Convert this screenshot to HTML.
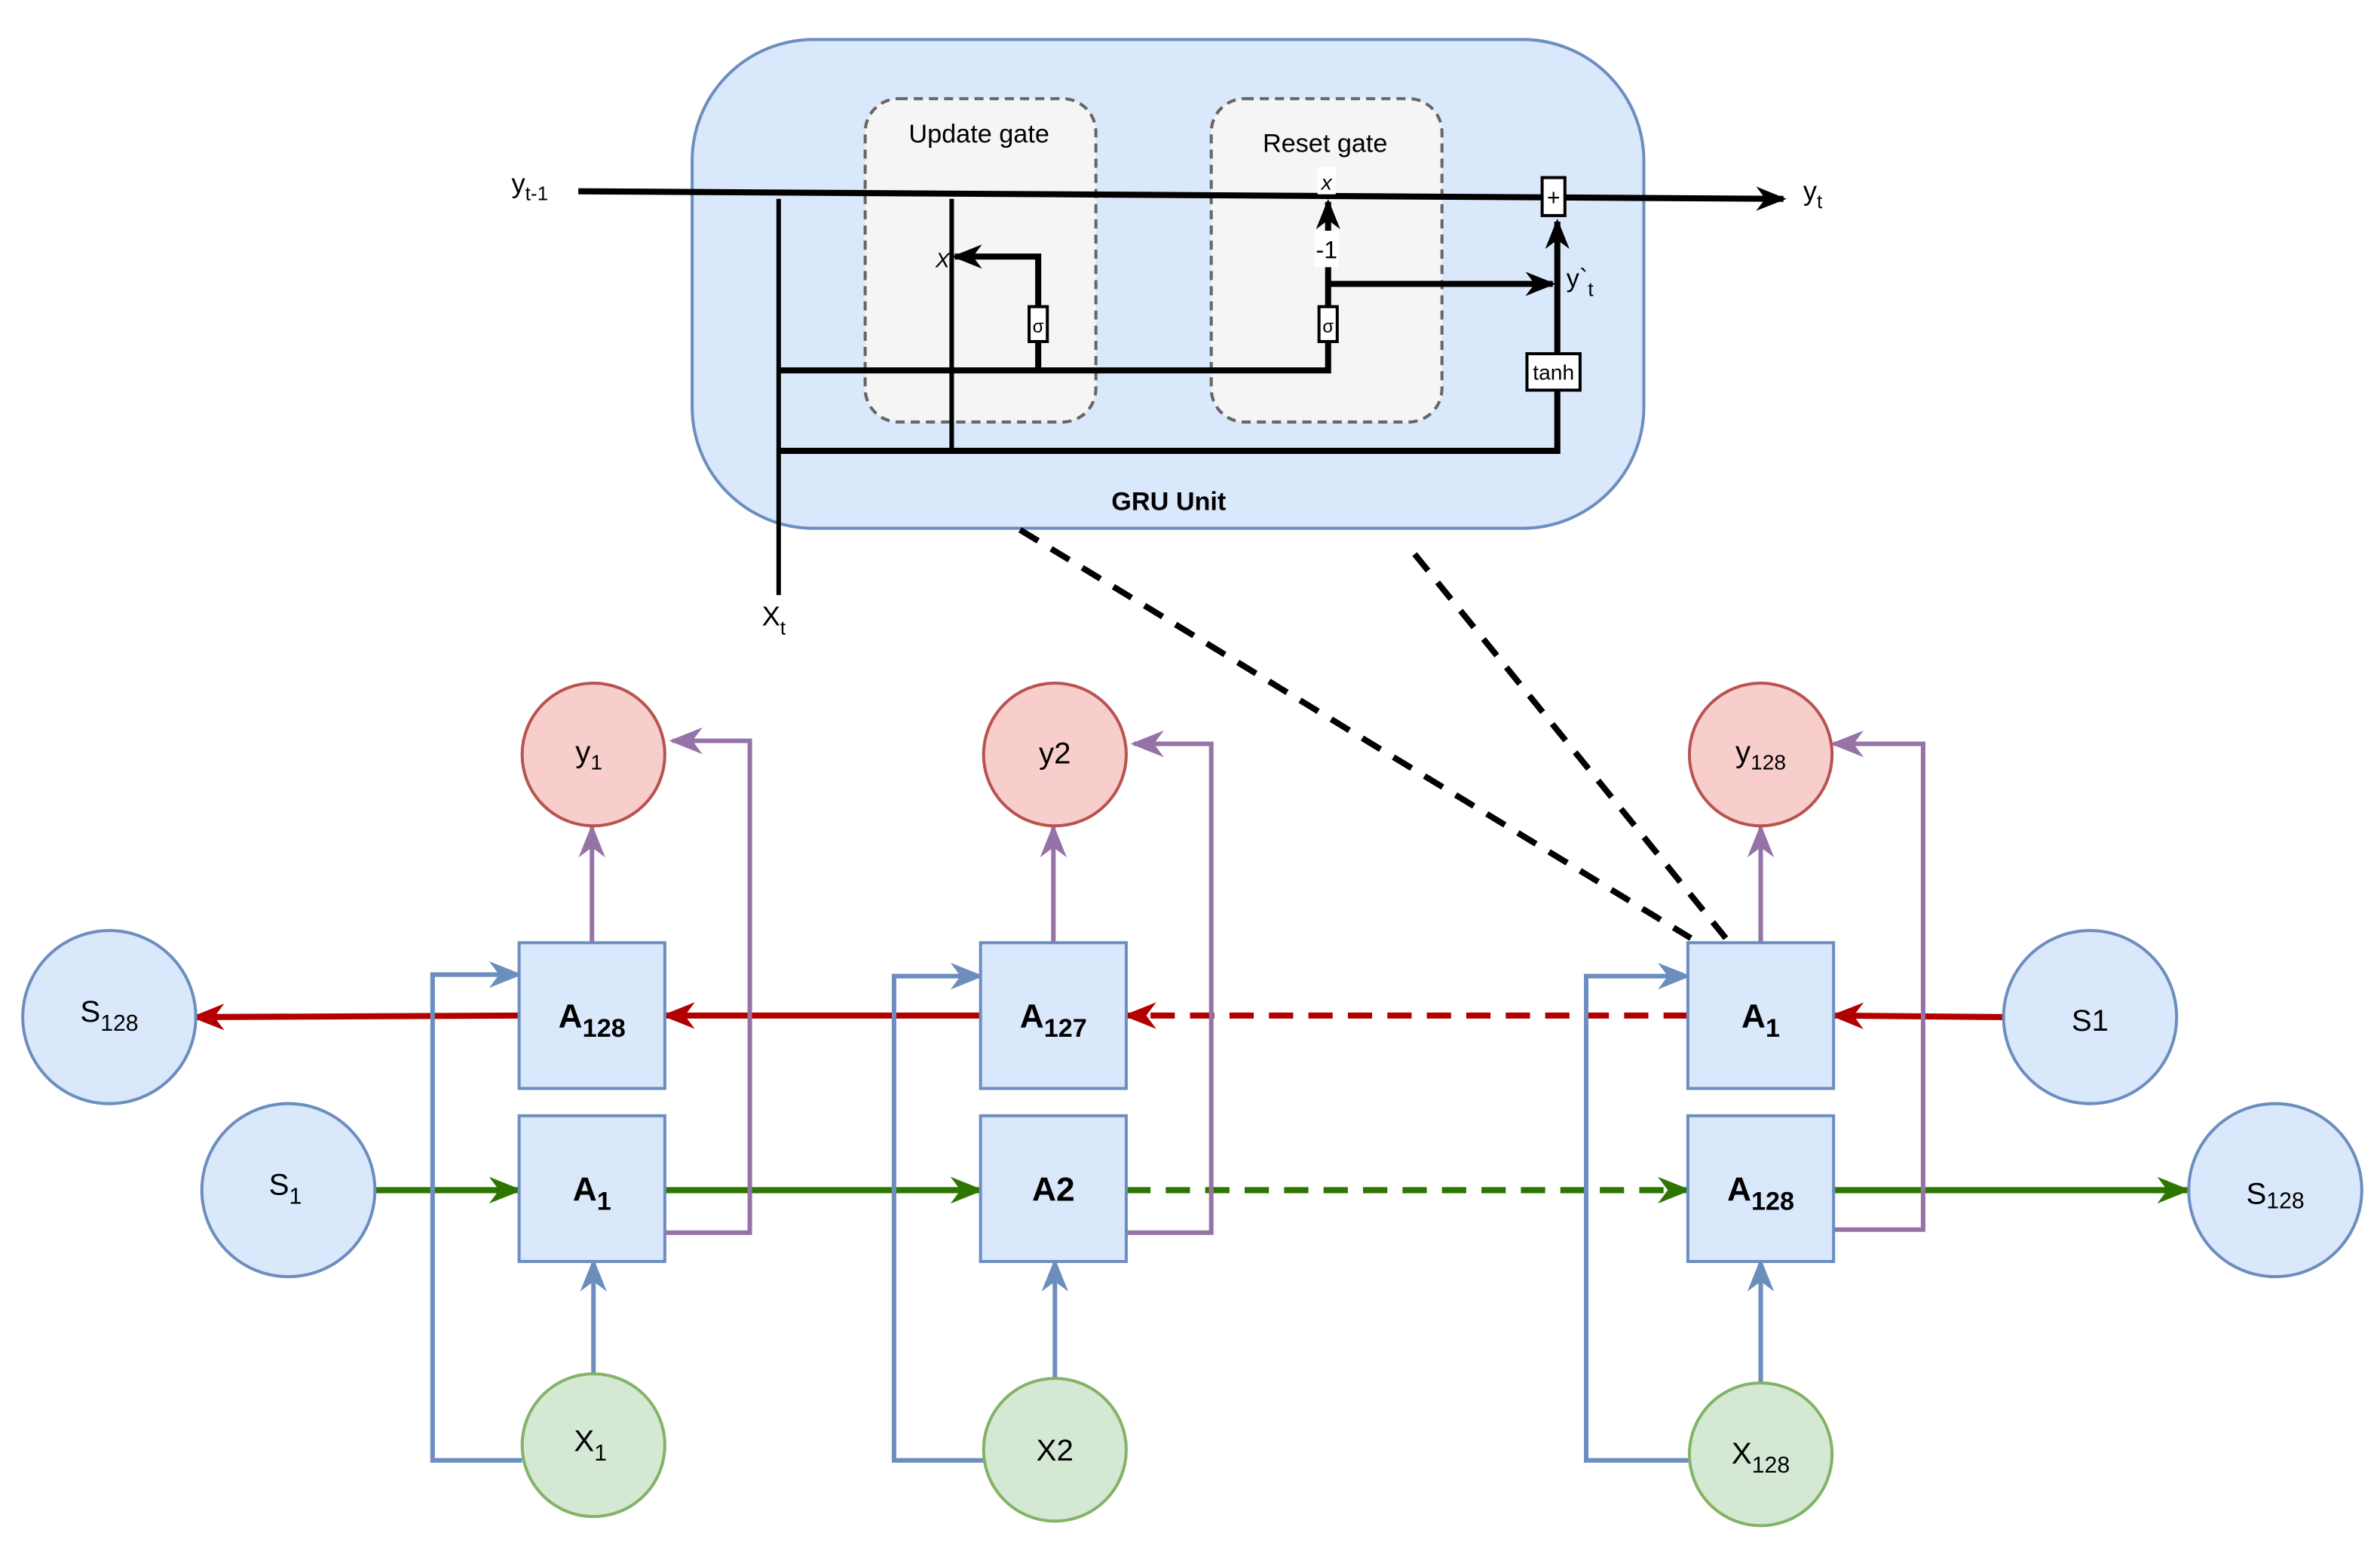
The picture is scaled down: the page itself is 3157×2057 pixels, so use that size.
<!DOCTYPE html>
<html><head><meta charset="utf-8">
<style>
html,body{margin:0;padding:0;background:#fff;}
svg{display:block;}
text{font-family:"Liberation Sans",sans-serif;}
</style></head>
<body>
<svg width="3157" height="2057" viewBox="0 0 1568 1021.7" preserveAspectRatio="none" xmlns="http://www.w3.org/2000/svg">
<defs>
<marker id="ak" viewBox="0 0 10 10" refX="9" refY="5" markerWidth="5" markerHeight="5" orient="auto" markerUnits="userSpaceOnUse" style="overflow:visible"><path d="M0,0 L10,5 L0,10 L3,5 z" fill="#000" transform="scale(1.8) translate(-4,-2.2)"/></marker>
<marker id="ar" viewBox="0 0 20 20" refX="18" refY="10" markerWidth="22" markerHeight="22" orient="auto" markerUnits="userSpaceOnUse"><path d="M0,2 L20,10 L0,18 L6,10 z" fill="#b20000"/></marker>
<marker id="ag" viewBox="0 0 20 20" refX="18" refY="10" markerWidth="22" markerHeight="22" orient="auto" markerUnits="userSpaceOnUse"><path d="M0,2 L20,10 L0,18 L6,10 z" fill="#2d7600"/></marker>
<marker id="ap" viewBox="0 0 20 20" refX="18" refY="10" markerWidth="22" markerHeight="22" orient="auto" markerUnits="userSpaceOnUse"><path d="M0,2 L20,10 L0,18 L6,10 z" fill="#9673a6"/></marker>
<marker id="ab" viewBox="0 0 20 20" refX="18" refY="10" markerWidth="22" markerHeight="22" orient="auto" markerUnits="userSpaceOnUse"><path d="M0,2 L20,10 L0,18 L6,10 z" fill="#6c8ebf"/></marker>
<marker id="abk" viewBox="0 0 20 20" refX="18" refY="10" markerWidth="20" markerHeight="20" orient="auto" markerUnits="userSpaceOnUse"><path d="M0,2 L20,10 L0,18 L6,10 z" fill="#000"/></marker>
</defs>

<!-- GRU unit -->
<rect x="456" y="26" width="627" height="322" rx="80" fill="#dae8fc" stroke="#6c8ebf" stroke-width="2"/>
<rect x="570" y="65" width="152" height="213" rx="22" fill="#f5f5f5" stroke="#666" stroke-width="2" stroke-dasharray="6,4"/>
<rect x="798" y="65" width="152" height="213" rx="22" fill="#f5f5f5" stroke="#666" stroke-width="2" stroke-dasharray="6,4"/>
<text x="645" y="94" font-size="17" text-anchor="middle">Update gate</text>
<text x="873" y="100" font-size="17" text-anchor="middle">Reset gate</text>
<text x="770" y="336" font-size="17" font-weight="bold" text-anchor="middle">GRU Unit</text>

<g stroke="#000" fill="none">
<line x1="381" y1="126" x2="1175" y2="131" stroke-width="4" marker-end="url(#abk)"/>
<line x1="513" y1="131" x2="513" y2="392" stroke-width="3"/>
<line x1="627" y1="131" x2="627" y2="297" stroke-width="3"/>
<polyline points="513,244 875,244 875,133" stroke-width="4" marker-end="url(#abk)"/>
<line x1="875" y1="187" x2="1023" y2="187" stroke-width="4" marker-end="url(#abk)"/>
<polyline points="684,244 684,169 629,169" stroke-width="4" marker-end="url(#abk)"/>
<polyline points="513,297 1026,297 1026,146" stroke-width="4" marker-end="url(#abk)"/>
</g>
<rect x="678" y="202" width="12" height="23" fill="#fff" stroke="#000" stroke-width="2"/>
<text x="684" y="219" font-size="12" text-anchor="middle">σ</text>
<rect x="869" y="202" width="12" height="23" fill="#fff" stroke="#000" stroke-width="2"/>
<text x="875" y="219" font-size="12" text-anchor="middle">σ</text>
<rect x="1016" y="117" width="15" height="25" fill="#fff" stroke="#000" stroke-width="2"/>
<text x="1023.5" y="135" font-size="15" text-anchor="middle">+</text>
<rect x="1006" y="233" width="35" height="24" fill="#fff" stroke="#000" stroke-width="2"/>
<text x="1023.5" y="250" font-size="14" text-anchor="middle">tanh</text>
<rect x="868" y="110" width="12" height="18" fill="#fff"/>
<text x="874" y="125" font-size="14" text-anchor="middle" font-style="italic">x</text>
<rect x="866" y="152" width="16" height="24" fill="#fff"/>
<text x="874" y="170" font-size="16" text-anchor="middle">-1</text>
<rect x="615" y="160" width="10" height="22" fill="#f5f5f5"/>
<text x="621" y="176" font-size="14" text-anchor="middle" font-style="italic">X</text>
<text x="1032" y="189" font-size="17">y`<tspan font-size="13" dy="6">t</tspan></text>
<text x="337" y="127" font-size="18">y<tspan font-size="13" dy="5">t-1</tspan></text>
<text x="1188" y="132" font-size="18">y<tspan font-size="13" dy="5">t</tspan></text>
<text x="502" y="412" font-size="18">X<tspan font-size="13" dy="6">t</tspan></text>

<!-- dashed black zoom lines -->
<line x1="672" y1="349" x2="1114" y2="618" stroke="#000" stroke-width="4" stroke-dasharray="14,10"/>
<line x1="932" y1="365" x2="1137" y2="618" stroke="#000" stroke-width="4" stroke-dasharray="14,10"/>

<!-- connectors -->
<g fill="none" stroke-width="4">
<line x1="342" y1="669" x2="128" y2="670" stroke="#b20000" marker-end="url(#ar)"/>
<line x1="646" y1="669" x2="438" y2="669" stroke="#b20000" marker-end="url(#ar)"/>
<line x1="1112" y1="669" x2="742" y2="669" stroke="#b20000" stroke-dasharray="16,10" marker-end="url(#ar)"/>
<line x1="1320" y1="670" x2="1208" y2="669" stroke="#b20000" marker-end="url(#ar)"/>
<line x1="247" y1="784" x2="342" y2="784" stroke="#2d7600" marker-end="url(#ag)"/>
<line x1="438" y1="784" x2="646" y2="784" stroke="#2d7600" marker-end="url(#ag)"/>
<line x1="742" y1="784" x2="1112" y2="784" stroke="#2d7600" stroke-dasharray="16,10" marker-end="url(#ag)"/>
<line x1="1208" y1="784" x2="1441" y2="784" stroke="#2d7600" marker-end="url(#ag)"/>
</g>
<g fill="none" stroke-width="3">
<line x1="390" y1="621" x2="390" y2="545" stroke="#9673a6" marker-end="url(#ap)"/>
<line x1="694" y1="621" x2="694" y2="545" stroke="#9673a6" marker-end="url(#ap)"/>
<line x1="1160" y1="621" x2="1160" y2="545" stroke="#9673a6" marker-end="url(#ap)"/>
<polyline points="438,812 494,812 494,488 443,488" stroke="#9673a6" marker-end="url(#ap)"/>
<polyline points="742,812 798,812 798,490 747,490" stroke="#9673a6" marker-end="url(#ap)"/>
<polyline points="1208,810 1267,810 1267,490 1208,490" stroke="#9673a6" marker-end="url(#ap)"/>
<line x1="391" y1="905" x2="391" y2="831" stroke="#6c8ebf" marker-end="url(#ab)"/>
<line x1="695" y1="908" x2="695" y2="831" stroke="#6c8ebf" marker-end="url(#ab)"/>
<line x1="1160" y1="911" x2="1160" y2="831" stroke="#6c8ebf" marker-end="url(#ab)"/>
<polyline points="344,962 285,962 285,642 342,642" stroke="#6c8ebf" marker-end="url(#ab)"/>
<polyline points="648,962 589,962 589,643 646,643" stroke="#6c8ebf" marker-end="url(#ab)"/>
<polyline points="1114,962 1045,962 1045,643 1112,643" stroke="#6c8ebf" marker-end="url(#ab)"/>
</g>

<!-- boxes -->
<g fill="#dae8fc" stroke="#6c8ebf" stroke-width="2">
<rect x="342" y="621" width="96" height="96"/>
<rect x="342" y="735" width="96" height="96"/>
<rect x="646" y="621" width="96" height="96"/>
<rect x="646" y="735" width="96" height="96"/>
<rect x="1112" y="621" width="96" height="96"/>
<rect x="1112" y="735" width="96" height="96"/>
</g>
<g font-size="22" font-weight="bold" text-anchor="middle">
<text x="390" y="677">A<tspan font-size="17" dy="6">128</tspan></text>
<text x="390" y="791">A<tspan font-size="17" dy="6">1</tspan></text>
<text x="694" y="677">A<tspan font-size="17" dy="6">127</tspan></text>
<text x="694" y="791">A2</text>
<text x="1160" y="677">A<tspan font-size="17" dy="6">1</tspan></text>
<text x="1160" y="791">A<tspan font-size="17" dy="6">128</tspan></text>
</g>

<!-- circles -->
<g fill="#f8cecc" stroke="#b85450" stroke-width="2">
<circle cx="391" cy="497" r="47"/><circle cx="695" cy="497" r="47"/><circle cx="1160" cy="497" r="47"/>
</g>
<g fill="#dae8fc" stroke="#6c8ebf" stroke-width="2">
<circle cx="72" cy="670" r="57"/><circle cx="190" cy="784" r="57"/>
<circle cx="1377" cy="670" r="57"/><circle cx="1499" cy="784" r="57"/>
</g>
<g fill="#d5e8d4" stroke="#82b366" stroke-width="2">
<circle cx="391" cy="952" r="47"/><circle cx="695" cy="955" r="47"/><circle cx="1160" cy="958" r="47"/>
</g>
<g font-size="20" text-anchor="middle">
<text x="388" y="502">y<tspan font-size="14" dy="5">1</tspan></text>
<text x="695" y="503">y2</text>
<text x="1160" y="502">y<tspan font-size="14" dy="5">128</tspan></text>
<text x="72" y="673">S<tspan font-size="15" dy="6">128</tspan></text>
<text x="188" y="787">S<tspan font-size="15" dy="6">1</tspan></text>
<text x="1377" y="679">S1</text>
<text x="1499" y="793">S<tspan font-size="15" dy="3">128</tspan></text>
<text x="389" y="956">X<tspan font-size="15" dy="6">1</tspan></text>
<text x="695" y="962">X2</text>
<text x="1160" y="964">X<tspan font-size="15" dy="6">128</tspan></text>
</g>
</svg>
</body></html>
